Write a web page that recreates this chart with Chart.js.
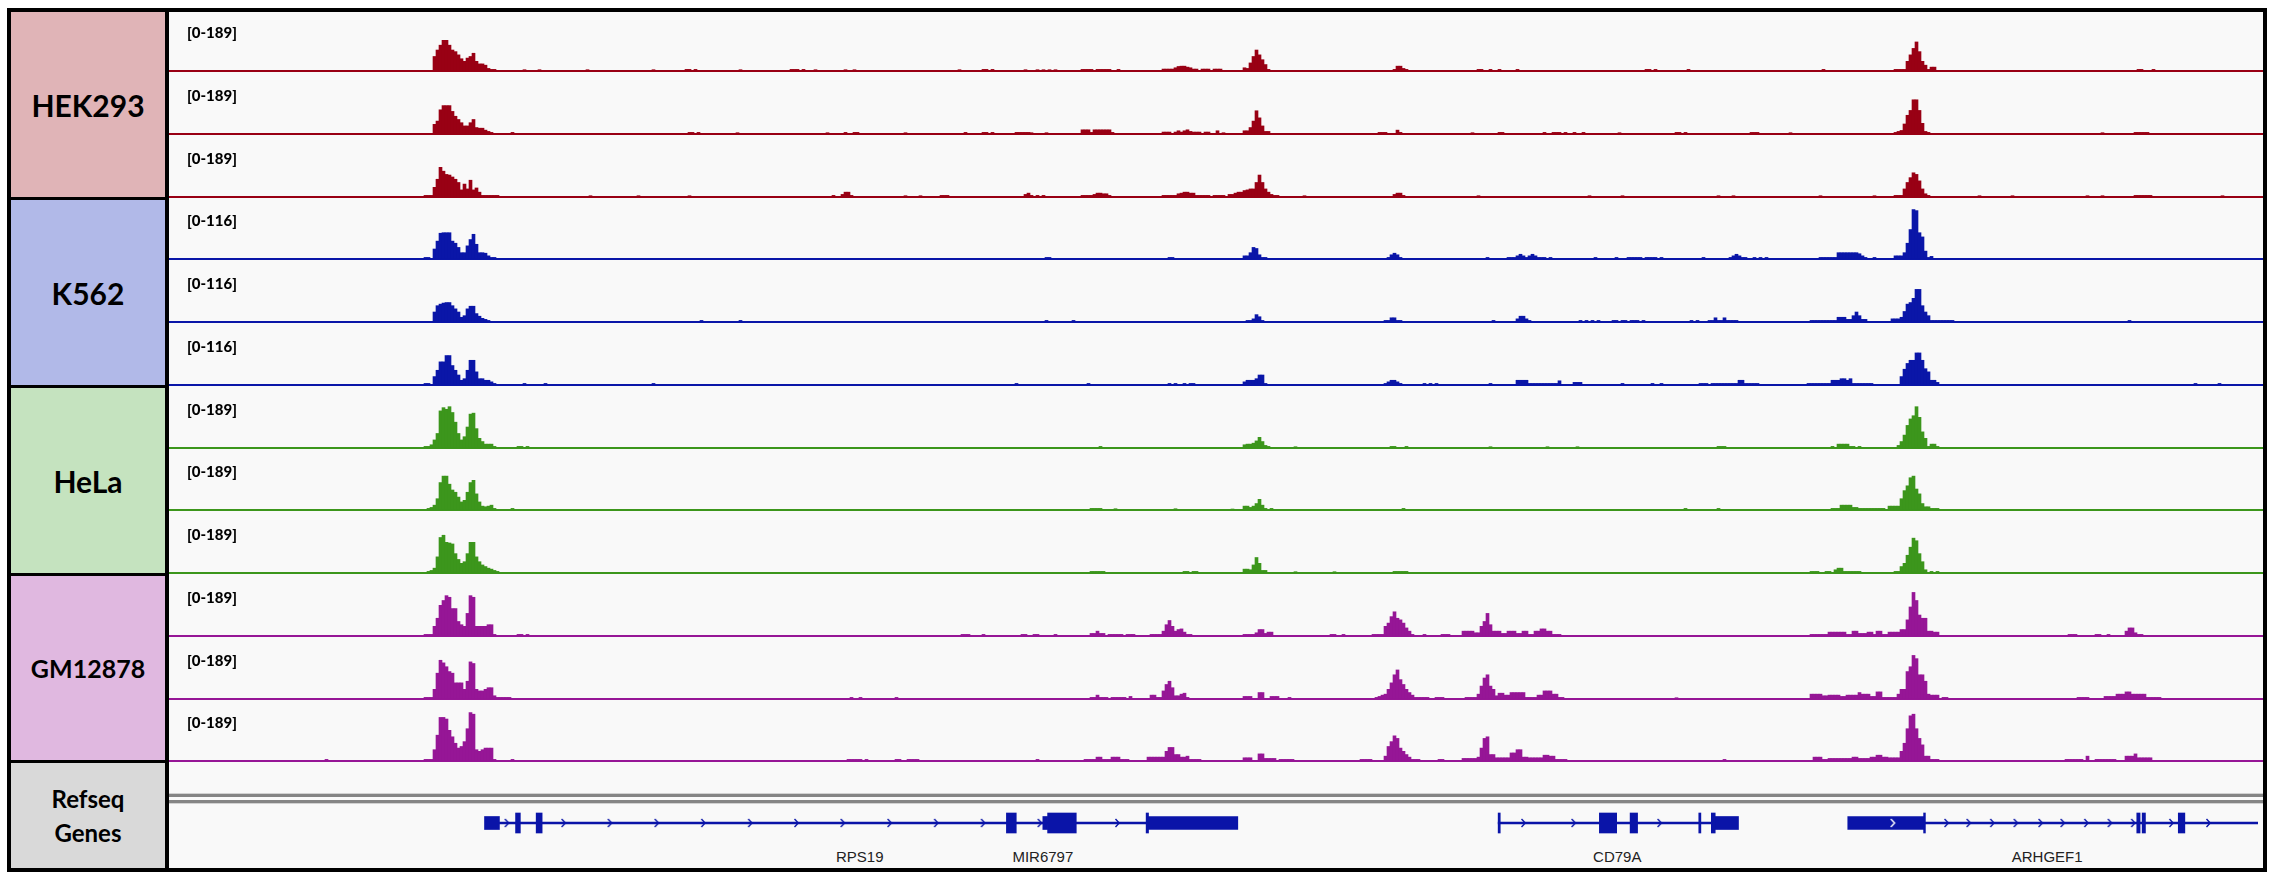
<!DOCTYPE html>
<html>
<head>
<meta charset="utf-8">
<title>Signal tracks</title>
<script src="https://cdn.jsdelivr.net/npm/chart.js@4.4.1/dist/chart.umd.min.js"></script>
<style>
  body { margin: 0; background: #fff; }
  #page { position: relative; width: 2270px; height: 880px; overflow: hidden; }
  #frame { position: absolute; left: 7px; top: 8px; width: 2260px; height: 864px; background: #000; }
  #trackArea { position: absolute; left: 169px; top: 12px; width: 2094px; height: 856px; background: #f9f9f9; }
  .panel { position: absolute; left: 11px; width: 154px; display: flex; align-items: center; justify-content: center;
           text-align: center; font-family: Lato, 'Open Sans', sans-serif; font-weight: 700; color: #000; }
  .range { position: absolute; left: 187px; font-family: Lato, 'Open Sans', sans-serif; font-weight: 900;
           font-size: 15px; line-height: 15px; color: #000; }
  .track { position: absolute; left: 169px; width: 2094px; height: 62px; }
  .gene-name { position: absolute; top: 848px; font-family: 'Liberation Sans', Arial, sans-serif; font-size: 15px;
               line-height: 17px; color: #222; transform: translateX(-50%); white-space: nowrap; }
  .sep { position: absolute; left: 169px; width: 2094px; }
</style>
</head>
<body>
<div id="page">
  <div id="frame"></div>
  <div id="trackArea"></div>
  <div class="panel" style="top:12px;height:185px;background:#e0b4b7;font-size:30px;">HEK293</div>
  <div class="panel" style="top:200px;height:185px;background:#b1b9e8;font-size:30px;">K562</div>
  <div class="panel" style="top:388px;height:185px;background:#c5e3bf;font-size:30px;">HeLa</div>
  <div class="panel" style="top:576px;height:184px;background:#e0b8e0;font-size:25px;">GM12878</div>
  <div class="panel" style="top:763px;height:105px;background:#d9d9d9;font-size:24px;line-height:34px;">Refseq<br>Genes</div>
  <div class="sep" style="top:793px;height:11px;background:#d2d2d2;"></div>
  <div class="sep" style="top:794px;height:3px;background:#858585;"></div>
  <div class="sep" style="top:797px;height:3px;background:#fafafa;"></div>
  <div class="sep" style="top:800px;height:3px;background:#858585;"></div>
</div>

<script>
  const NBINS = 698;

  // [first bin, [values...]] runs; empty bins are zero
  const hek293Rep1 = [
    [88, [45,65,80,95,95,80,65,60,50,38,30,40,45,55,30,22,22,18,8,5,5]],
    [118, [4]], [123, [4]], [139, [4]], [161, [4]], [172, [5,5,0,5]], [190, [4]],
    [207, [5,5,5,0,5]], [215, [4]], [225, [4]], [228, [4]], [263, [4]], [271, [5,5,0,5]],
    [285, [4]], [289, [4,0,4,0,4,0,4]], [304, [5,5,5,5,0,5,5,5,5,5,0,0,5]],
    [331, [6,6,6,6,10,14,15,15,12,10,6,6,0,6,6,6,0,6,6,6]],
    [358, [10,8,25,45,65,50,35,20,5]],
    [408, [5,15,15,8,5]],
    [436, [5,5,0,0,5,0,0,5,0,0,0,0,0,5]],
    [492, [5,5,0,5]], [506, [5]], [551, [5]],
    [575, [5,5,5,5,30,50,70,90,60,30,18,5,12,12]],
    [656, [5,5,0,0,0,5]]
  ];
  const hek293Rep2 = [
    [88, [30,40,75,88,88,88,70,55,45,35,25,25,35,45,20,18,18,12,8,5]],
    [114, [5]], [173, [5,5,0,5]], [189, [4]], [219, [4]], [225, [5,0,0,5,5]], [245, [4]],
    [265, [5]], [271, [5,5,0,5]], [282, [5,5,5,5,5,4]], [292, [4]],
    [304, [13,13,13,5,13,13,13,13,13,13,5]],
    [331, [6,6,6,0,6,10,6,10,13,8,6,6,6,0,6,6,0,0,10,0,4]],
    [358, [10,10,20,40,72,50,25,8,8]],
    [403, [5,5,5,0,0,0,12,5]],
    [434, [4]], [443, [5,5]], [458, [5,0,0,5,5,5,0,5,0,0,5,0,0,5]], [483, [4]],
    [502, [5,5,0,5]], [527, [5,5,5]], [540, [4]],
    [575, [5,8,11,31,58,73,106,106,73,33,8,5]],
    [644, [4]], [655, [5,5,5,5,5]]
  ];
  const hek293Rep3 = [
    [85, [5,5,5,30,55,92,80,70,68,62,55,45,22,40,25,52,22,28,15,5,5,5,5,5,5]],
    [140, [4]], [156, [4]], [173, [4]], [221, [5]], [224, [8,15,15,5]], [245, [4]], [250, [4]],
    [257, [5,5,5]], [285, [8,12,5]], [289, [5]], [291, [5]],
    [304, [5,5,5,5,8,12,12,12,8,5]], [311, [10,10]],
    [331, [5,5,5,5,5,10,12,15,15,12,12,5,5,5,5,5,0,5,5,5,5,0,8,8,12,15,15,20,22,25,25,45,68,45,25,15,8,5,5]],
    [378, [4]], [408, [8,12,12,5]], [436, [4]], [473, [4]], [484, [4]], [516, [4]], [521, [4]],
    [550, [4]], [568, [4]],
    [575, [5,5,5,25,45,60,75,70,50,25,10,5]],
    [603, [4]], [614, [4]], [639, [4]], [644, [4]], [655, [5,5,5,5,5,5]], [684, [4]]
  ];
  const k562Rep1 = [
    [85, [3,3,0,19,34,49,50,50,50,34,30,22,12,12,25,37,47,28,12,12,11,6,3,3]],
    [292, [3,3]], [333, [3,3]],
    [358, [6,6,12,22,20,8,3,3]],
    [406, [3,8,11,8,3]], [439, [3]],
    [446, [3,3,3,6,9,6,3,6,9,6,3,3,3,0,3]],
    [475, [3]], [482, [3]], [486, [3,3,3,3,3,0,3,3,3,3]], [497, [3]], [511, [3]],
    [520, [3,6,9,6,3,3]], [528, [3,0,3,0,3]],
    [550, [3,3,3,3,3,3,12,12,12,12,12,12,12,10,6,3]], [568, [3]],
    [575, [6,6,6,12,30,56,94,92,50,42,15,3,5]]
  ];
  const k562Rep2 = [
    [88, [19,31,34,36,37,37,31,25,19,9,12,25,30,30,16,11,7,5,3]],
    [177, [3]], [190, [3]], [292, [3]], [301, [3]],
    [359, [3,3,6,14,10,3]],
    [405, [3,3,8,8,3,3]], [441, [3]], [449, [6,11,11,6,3]],
    [470, [3,0,3,0,3,0,3]], [481, [3,3,0,3,3,0,3,3,3,0,3]], [507, [3,0,3]],
    [513, [3,3,8,3,3,8,3,3,3,3]],
    [547, [3,3,3,3,3,3,3,3,3,9,9,9,5,5,12,19,12,5,5]],
    [574, [6,6,6,9,20,34,37,45,62,62,31,19,12,3,3,3,3,3,3,3,3]],
    [653, [3]]
  ];
  const k562Rep3 = [
    [85, [3,3,0,16,28,44,44,56,56,37,28,19,9,12,28,47,47,25,12,12,9,9,6,3]],
    [118, [3]], [125, [3]], [161, [3]], [282, [3]], [306, [3]], [333, [3,0,3,0,0,3,0,3,3]],
    [358, [6,9,9,9,12,19,19,3]],
    [405, [3,6,9,9,6,3]], [418, [3,0,3,0,3]], [440, [3]],
    [449, [9,9,9,9,3,3,3,3,3,3,3,3,3,3,8]],
    [468, [5,5,5]], [484, [3]], [494, [3]], [497, [3]],
    [510, [3,3,3,0,3,3,3,3,3,3,3,3,3,9,9,3,3,3,3,3]],
    [546, [3,3,3,3,3,3,3,3,9,9,9,12,12,9,12,3,3,3,3,3,3,3]],
    [577, [16,30,41,47,47,61,61,47,31,25,9,9,5]],
    [675, [3]], [683, [3]]
  ];
  const helaRep1 = [
    [85, [5,5,10,25,45,115,125,120,128,110,80,45,25,35,65,105,108,60,30,20,12,12,12,5]],
    [116, [5,5,0,5]], [310, [5]],
    [358, [10,12,12,15,22,33,20,8,5]],
    [375, [4]], [407, [5,5,0,0,0,5]], [440, [4]], [459, [4]], [469, [4]], [516, [5,5,5]],
    [554, [5,0,12,12,12,12,5,5,0,5]],
    [576, [8,20,40,70,90,100,128,95,50,30,5,12,12,5]]
  ];
  const helaRep2 = [
    [86, [5,8,15,35,85,105,105,80,62,55,40,25,30,55,85,92,50,25,12,10,12,15,5]],
    [114, [5]], [307, [5,5,5,5]], [315, [4]], [335, [4]],
    [354, [3]], [358, [12,12,8,12,20,33,15,5,0,5]],
    [411, [5]], [505, [5]], [516, [5]],
    [554, [5,5,5,15,15,15,15,8,8,5,5,5,5,5,5,5,5,5]],
    [573, [12,12,12,12,35,60,75,100,105,65,50,20,10,10,5,5,5]]
  ];
  const helaRep3 = [
    [86, [5,8,15,50,110,117,95,93,90,60,42,30,35,60,95,95,50,35,25,20,15,12,8,5]],
    [307, [5,5,5,5,5]], [338, [5,5,0,5,5]],
    [358, [12,12,10,25,48,30,8,8]],
    [375, [4]], [388, [4]], [408, [5,5,5,5,5]],
    [547, [5,5,5,0,0,5,5,0,10,15,15,5,5,5,5,5,5]],
    [575, [5,5,20,30,55,80,108,100,60,35,10,0,5,0,5]]
  ];
  const gm12878Rep1 = [
    [85, [5,5,5,30,55,95,110,125,120,85,85,45,35,30,70,125,120,30,30,30,30,35,35,5]],
    [116, [5,5,0,5]],
    [264, [5,5,5]], [271, [5]], [284, [5,5,0,0,5,5]], [295, [5]], [307, [8,8,15,8,8]],
    [313, [5,5,5,5,5,0,5,5,5]],
    [327, [5,5,5,5,15,35,48,30,15,20,22,12,5,5]],
    [358, [5,5,5,5,10,20,20,8,12,12]],
    [387, [5,5,0,0,5]],
    [401, [5,5,5,5,30,40,60,75,55,50,40,25,15,5]],
    [418, [5]], [424, [5,5,5]],
    [431, [15,15,15,15,10,10,30,45,70,35,15,15,15,8,8,15,15,15,8,8,15,15,5,5,15,15,22,22,15,15,5,5,5]],
    [547, [5,5,5,5,5,5,12,12,12,12,12,12,5,5,15,15,8,8,8,12,12,5,15,15,5,5,12,12,12,12,20,20,50,90,135,110,65,55,55,15,15,12,12]],
    [633, [5,5,5]], [642, [5,5,0,0,5]], [652, [15,25,25,10,5,5]]
  ];
  const gm12878Rep2 = [
    [85, [5,5,5,30,80,120,112,100,85,80,50,50,50,30,55,115,110,30,25,25,30,35,35,10,5,5,5,5,5]],
    [227, [5,0,0,5]], [242, [5]],
    [307, [5,5,12,5,5,5,0,5,5,5,5,5,0,8]],
    [327, [12,12,5,5,25,45,55,35,10,10,15,18,5]],
    [358, [8,8,8,0,0,20,20,0,0,8,8,8,0,0,0,5]],
    [402, [5,8,12,15,30,50,75,90,60,45,30,20,12,5,5,5,5,5,0,0,5,5,5]],
    [432, [5,5,5,5,15,40,65,75,40,30,10,18,18,12,12,20,20,20,20,20,5,5,5,5,12,12,25,25,25,15,15,5,5]],
    [502, [4]],
    [547, [15,15,15,15,10,10,12,12,12,12,8,8,12,12,12,12,20,15,15,15,8,8,22,22,5,5,5,5,5,15,30,30,85,100,135,125,75,75,55,15,12,12,12,0,5,5]],
    [636, [5,5,5,5]],
    [645, [8,8,8,8,15,15,15,22,22,15,15,15,15,15,5,5,5,5,5]]
  ];
  const gm12878Rep3 = [
    [52, [5]],
    [85, [5,5,5,35,80,135,135,130,95,75,55,40,45,60,100,150,145,35,30,35,40,40,40,5]],
    [114, [5]], [226, [5,5,5,5,5,0,5]], [242, [5,5,0,0,5,5,5,5]], [289, [5]],
    [305, [5,5,5,5,12,12,5,5,5,12,12,12,5,5,5]],
    [326, [12,12,12,12,12,12,30,42,42,20,20,12,12,15,5,5,5,5]],
    [358, [10,10,10,0,0,22,22,8,8,8,8,0,5,5,5,5,5]],
    [397, [5,5,5,5,0,0,0,0,15,45,60,78,70,40,30,20,12,5,5,5,0,0,0,0,0,0,5,5]],
    [431, [8,8,8,8,8,12,40,70,75,20,20,10,10,10,10,10,25,25,35,35,12,12,10,10,10,10,10,18,18,15,15,5,5,5,5]],
    [518, [5]],
    [548, [12,12,12,5,5,8,8,8,8,8,8,8,8,12,12,8,8,8,8,12,12,18,18,12,12,10,10,10,10,30,55,100,140,145,100,70,50,15,15,5,5,5]],
    [632, [5,5,5,5,5,5,0,15,0,0,5,5,5,5,5,5,5,0,0,0,15,15,15,22,10,10,10,10,10]]
  ];

  const cellLines = ['HEK293', 'K562', 'HeLa', 'GM12878'];
  const trackRuns = [hek293Rep1, hek293Rep2, hek293Rep3, k562Rep1, k562Rep2, k562Rep3,
                     helaRep1, helaRep2, helaRep3, gm12878Rep1, gm12878Rep2, gm12878Rep3];
  const trackRanges = [189, 189, 189, 116, 116, 116, 189, 189, 189, 189, 189, 189];

  // gene model, in bins
  const geneIntrons = [[109, 325.6], [443.5, 516], [586.3, 698]];
  const geneThinExons = [[104, 109], [291, 292.6], [326.2, 356.3], [516, 524], [560.6, 586.3]];
  const geneThickExons = [[114.4, 116], [121.3, 123.3], [278.8, 282.1], [292.6, 302.2], [325.6, 326.4],
                          [443.5, 444.2], [477.4, 483.2], [487.7, 490.2], [510.7, 511.4], [514.9, 516.2],
                          [586, 586.6], [657.4, 658.5], [659.2, 660.3], [671.3, 673.5]];
  const strandMarks = [111.5, 130.5, 146, 161.7, 177.3, 193, 208.5, 224, 239.7, 255.3, 271, 290, 316,
                       452, 468.8, 497.6, 593.7, 601.1, 609, 616.9, 625.2, 632.6, 640.5, 648.4, 656.2, 669, 681.4];
  const strandMarksOnExon = [575.7];
  const geneNames = ['RPS19', 'MIR6797', 'CD79A', 'ARHGEF1'];
  const geneNameBins = [229.7, 291, 483.4, 627.4];

  const trackColors = ['#990014', '#0a16a8', '#3c961c', '#961696'];
  const geneColor = '#0a14a8';

  Chart.defaults.animation = false;
  const page = document.getElementById('page');
  const binLabels = Array.from({ length: NBINS }, (_, i) => i);

  function densify(runs) {
    const out = new Array(NBINS).fill(null);
    runs.forEach(([start, vals]) => {
      vals.forEach((v, k) => {
        if (start + k < NBINS && v > 0) out[start + k] = v;
      });
    });
    return out;
  }

  trackRuns.forEach((runs, i) => {
    const color = trackColors[Math.floor(i / 3)];
    const baseline = 71 + 62.75 * i;

    const box = document.createElement('div');
    box.className = 'track';
    box.style.top = Math.round(baseline - 61) + 'px';
    const canvas = document.createElement('canvas');
    box.appendChild(canvas);
    page.appendChild(box);

    const label = document.createElement('div');
    label.className = 'range';
    label.style.top = Math.round(baseline - 46) + 'px';
    label.textContent = `[0-${trackRanges[i]}]`;
    page.appendChild(label);

    new Chart(canvas, {
      type: 'bar',
      data: {
        labels: binLabels,
        datasets: [{
          label: cellLines[Math.floor(i / 3)],
          data: densify(runs),
          backgroundColor: color,
          borderWidth: 0,
          barPercentage: 1,
          categoryPercentage: 1
        }]
      },
      options: {
        responsive: true,
        maintainAspectRatio: false,
        layout: { padding: { bottom: 1 } },
        plugins: { legend: { display: false }, tooltip: { enabled: false } },
        scales: {
          x: { display: false },
          y: {
            min: 0,
            max: trackRanges[i],
            ticks: { display: false },
            border: { display: false },
            grid: {
              drawTicks: false,
              lineWidth: 2,
              color: (ctx) => (ctx.tick && ctx.tick.value === 0 ? color : 'rgba(0,0,0,0)')
            }
          }
        }
      }
    });
  });

  // strand chevrons
  function chevron(col) {
    const c = document.createElement('canvas');
    c.width = 7;
    c.height = 10;
    const g = c.getContext('2d');
    g.strokeStyle = col;
    g.lineWidth = 1.4;
    g.beginPath();
    g.moveTo(1.5, 1);
    g.lineTo(5.2, 5);
    g.lineTo(1.5, 9);
    g.stroke();
    return c;
  }

  const geneBox = document.createElement('div');
  geneBox.className = 'track';
  geneBox.style.top = '803px';
  geneBox.style.height = '40px';
  const geneCanvas = document.createElement('canvas');
  geneBox.appendChild(geneCanvas);
  page.appendChild(geneBox);

  const toBars = (list) => list.map(r => ({ x: r, y: 'genes' }));
  const toPoints = (list) => list.map(x => ({ x: x, y: 'genes' }));

  const geneChart = new Chart(geneCanvas, {
    type: 'bar',
    data: {
      datasets: [
        { type: 'scatter', data: toPoints(strandMarks), pointStyle: chevron(geneColor), order: 0 },
        { type: 'scatter', data: toPoints(strandMarksOnExon), pointStyle: chevron('#ffffff'), order: 0 },
        { data: toBars(geneThickExons), backgroundColor: geneColor, borderWidth: 0, barThickness: 20, grouped: false, order: 1 },
        { data: toBars(geneThinExons), backgroundColor: geneColor, borderWidth: 0, barThickness: 13, grouped: false, order: 2 },
        { data: toBars(geneIntrons), backgroundColor: geneColor, borderWidth: 0, barThickness: 2, grouped: false, order: 3 }
      ]
    },
    options: {
      indexAxis: 'y',
      responsive: true,
      maintainAspectRatio: false,
      plugins: { legend: { display: false }, tooltip: { enabled: false } },
      scales: {
        x: { type: 'linear', min: 0, max: NBINS, display: false },
        y: { type: 'category', labels: ['genes'], display: false }
      }
    }
  });

  geneNames.forEach((name, k) => {
    const el = document.createElement('div');
    el.className = 'gene-name';
    el.style.left = (169 + geneChart.scales.x.getPixelForValue(geneNameBins[k])) + 'px';
    el.textContent = name;
    page.appendChild(el);
  });
</script>
</body>
</html>
